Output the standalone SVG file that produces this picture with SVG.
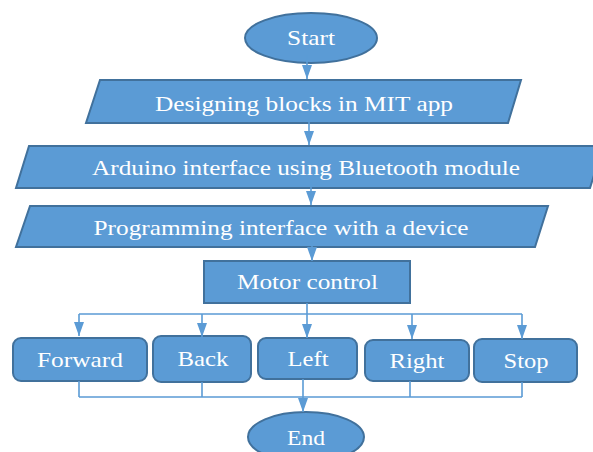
<svg xmlns="http://www.w3.org/2000/svg" width="593" height="452" viewBox="0 0 593 452">
<defs>
<style>
.n{fill:#5B9BD5;stroke:#41719C;stroke-width:2}
.t{fill:#ffffff;font-family:"Liberation Serif","Times New Roman",serif;font-size:21px;text-anchor:middle}
.c{fill:none;stroke:#5B9BD5;stroke-width:1.6}
</style>
<marker id="ah" viewBox="0 0 14 10" refX="14" refY="5" markerWidth="14" markerHeight="10" markerUnits="userSpaceOnUse" orient="auto">
<path d="M0,0 L14,5 L0,10 z" fill="#5B9BD5"/>
</marker>
</defs>
<rect width="593" height="452" fill="#ffffff"/>
<g id="start"><ellipse class="n" cx="311" cy="38" rx="66" ry="25"/><text class="t" x="311" y="45" textLength="48" lengthAdjust="spacingAndGlyphs">Start</text></g>
<g id="design"><polygon class="n" points="100,80 521,80 508,123 86,123"/><text class="t" x="304" y="111" textLength="298" lengthAdjust="spacingAndGlyphs">Designing blocks in MIT app</text></g>
<g id="arduino"><polygon class="n" points="29,146 603,146 590,188 16,188"/><text class="t" x="306" y="175" textLength="428" lengthAdjust="spacingAndGlyphs">Arduino interface using Bluetooth module</text></g>
<g id="programming"><polygon class="n" points="30,206 548,206 535,247 16,247"/><text class="t" x="281" y="235" textLength="375" lengthAdjust="spacingAndGlyphs">Programming interface with a device</text></g>
<g id="motor"><rect class="n" x="204" y="261" width="206" height="42"/><text class="t" x="307.5" y="289" textLength="141" lengthAdjust="spacingAndGlyphs">Motor control</text></g>
<g id="forward"><rect class="n" x="13" y="338" width="134" height="43" rx="8"/><text class="t" x="80" y="367" textLength="86" lengthAdjust="spacingAndGlyphs">Forward</text></g>
<g id="back"><rect class="n" x="153" y="336" width="98" height="46" rx="8"/><text class="t" x="203" y="366" textLength="51" lengthAdjust="spacingAndGlyphs">Back</text></g>
<g id="left"><rect class="n" x="258" y="338" width="99" height="41" rx="8"/><text class="t" x="308" y="366" textLength="41" lengthAdjust="spacingAndGlyphs">Left</text></g>
<g id="right"><rect class="n" x="365" y="340" width="104" height="41" rx="8"/><text class="t" x="417" y="368" textLength="55" lengthAdjust="spacingAndGlyphs">Right</text></g>
<g id="stop"><rect class="n" x="474" y="339" width="103" height="43" rx="8"/><text class="t" x="526" y="368" textLength="45" lengthAdjust="spacingAndGlyphs">Stop</text></g>
<g id="end"><ellipse class="n" cx="306" cy="437" rx="58" ry="25"/><text class="t" x="306" y="445" textLength="38" lengthAdjust="spacingAndGlyphs">End</text></g>
<g id="connectors">
<path class="c" d="M307,55 V79" marker-end="url(#ah)"/>
<path class="c" d="M309,117 V145" marker-end="url(#ah)"/>
<path class="c" d="M311,181 V205" marker-end="url(#ah)"/>
<path class="c" d="M312,241 V261" marker-end="url(#ah)"/>
<path class="c" d="M307,303 V314 M79,314 H522"/>
<path class="c" d="M79,314 V336" marker-end="url(#ah)"/>
<path class="c" d="M202,314 V337" marker-end="url(#ah)"/>
<path class="c" d="M307,314 V338" marker-end="url(#ah)"/>
<path class="c" d="M412,314 V339" marker-end="url(#ah)"/>
<path class="c" d="M522,314 V339" marker-end="url(#ah)"/>
<path class="c" d="M79,381 V397 M202,382 V397 M410,381 V397 M522,382 V397 M79,397 H522"/>
<path class="c" d="M303,379 V412" marker-end="url(#ah)"/>
</g>
</svg>
